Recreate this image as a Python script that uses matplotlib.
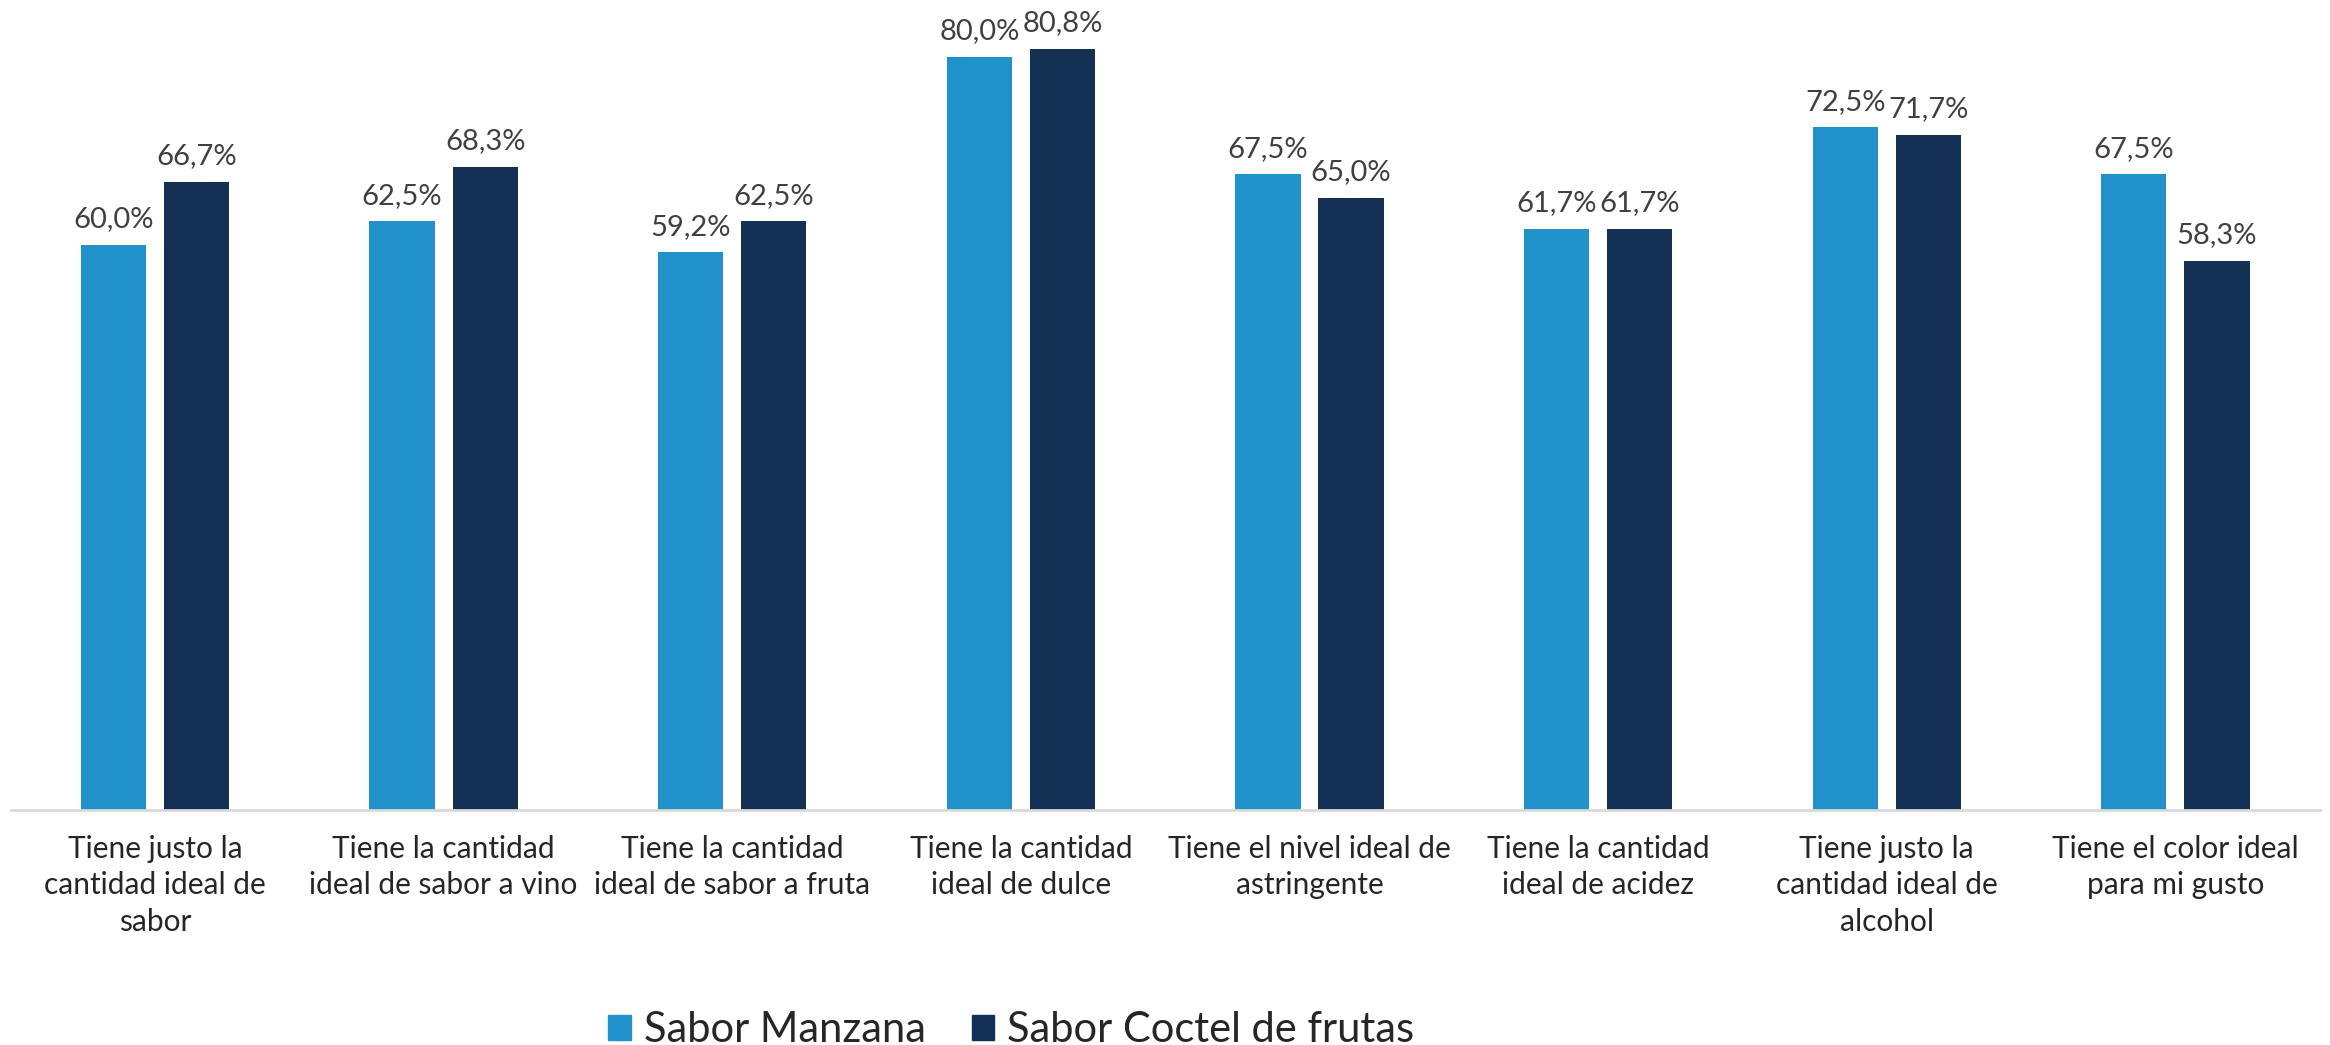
import matplotlib.pyplot as plt
from matplotlib.patches import Patch
import numpy as np

plt.rcParams['font.family'] = ['Lato', 'DejaVu Sans']

categories = [
    "Tiene justo la\ncantidad ideal de\nsabor",
    "Tiene la cantidad\nideal de sabor a vino",
    "Tiene la cantidad\nideal de sabor a fruta",
    "Tiene la cantidad\nideal de dulce",
    "Tiene el nivel ideal de\nastringente",
    "Tiene la cantidad\nideal de acidez",
    "Tiene justo la\ncantidad ideal de\nalcohol",
    "Tiene el color ideal\npara mi gusto",
]
manzana = [60.0, 62.5, 59.2, 80.0, 67.5, 61.7, 72.5, 67.5]
coctel = [66.7, 68.3, 62.5, 80.8, 65.0, 61.7, 71.7, 58.3]
series_names = ["Sabor Manzana", "Sabor Coctel de frutas"]

c_light = "#2192c9"
c_dark = "#143153"

fig = plt.figure(figsize=(23.3, 10.45), dpi=100)
ax = fig.add_axes([0.0046, 0.2249, 0.991, 0.7751])

x = np.arange(len(categories))
w = 0.226
off = 0.144
b1 = ax.bar(x - off, manzana, w, color=c_light)
b2 = ax.bar(x + off, coctel, w, color=c_dark)

# etiquetas de datos con coma decimal
for bars, vals in [(b1, manzana), (b2, coctel)]:
    for bar, v in zip(bars, vals):
        ax.annotate(f"{v:.1f}%".replace(".", ","),
                    (bar.get_x() + bar.get_width() / 2, v),
                    xytext=(0, 9), textcoords="offset points",
                    ha="center", va="bottom", fontsize=21, color="#404040")

ax.set_xlim(-0.5, len(categories) - 0.5)
ax.set_ylim(0, 86.0)
ax.set_xticks(x)
ax.set_xticklabels(categories, fontsize=21.5, color="#262626", linespacing=1.36)
ax.tick_params(axis="x", length=0, pad=18)
ax.set_yticks([])
for s in ["top", "right", "left"]:
    ax.spines[s].set_visible(False)
ax.spines["bottom"].set_color("#d9d9d9")
ax.spines["bottom"].set_linewidth(2)

handles = [Patch(color=c_light), Patch(color=c_dark)]
fig.legend(handles, series_names, loc="center", bbox_to_anchor=(0.434, 0.0144),
           ncol=2, frameon=False, fontsize=30, handlelength=0.55,
           handleheight=0.55, handletextpad=0.3, columnspacing=1.1,
           labelcolor="#262626")

fig.savefig("out.png", dpi=100)
